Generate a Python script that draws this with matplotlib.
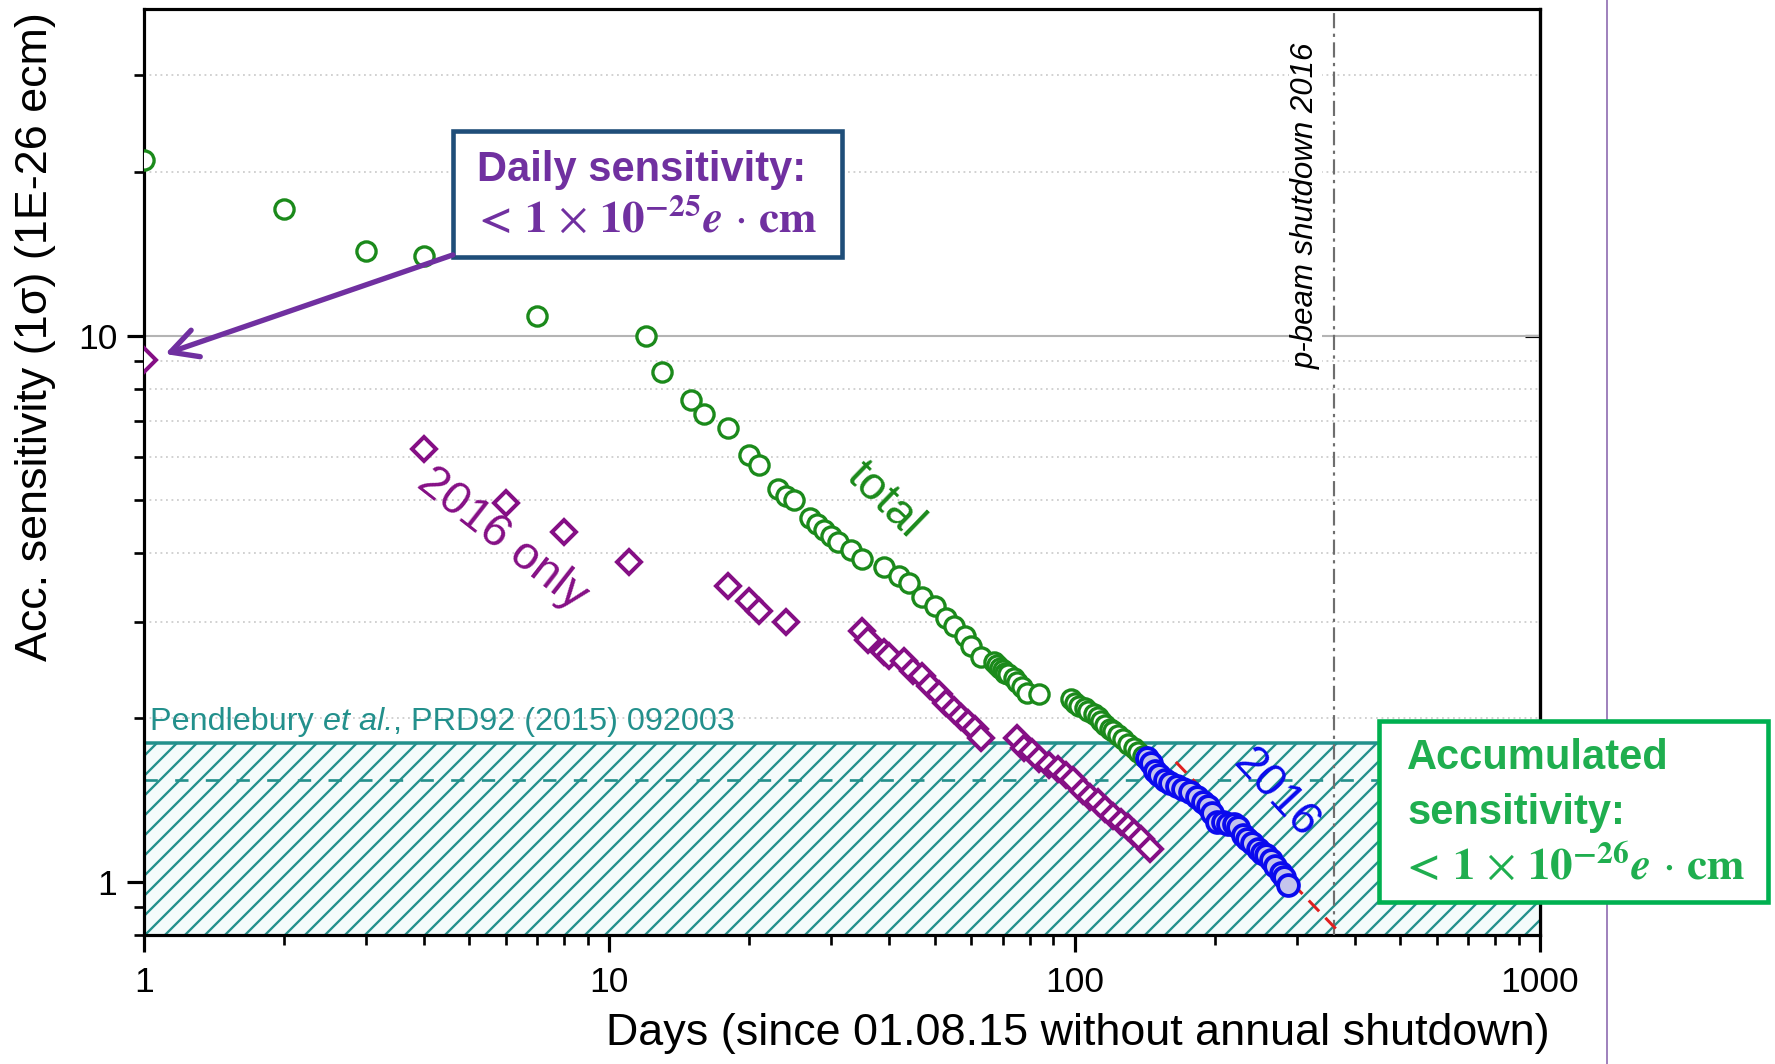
import matplotlib
matplotlib.use('Agg')
import matplotlib.pyplot as plt
import matplotlib.ticker as ticker
from matplotlib.lines import Line2D
from matplotlib.patches import Rectangle

plt.rcParams['font.family'] = ['Liberation Sans', 'DejaVu Sans']
plt.rcParams['mathtext.fontset'] = 'stix'
plt.rcParams['hatch.linewidth'] = 1.4

# accumulated sensitivity, all data (green circles)
total_days = [1, 2, 3, 4, 7, 12, 13, 15, 16, 18, 20, 21, 23, 24, 25, 27, 28, 29, 30, 31,
              33, 35, 39, 42, 44, 47, 50, 53, 55, 58, 60, 63, 67, 68, 69, 70, 71, 72, 74, 75,
              77, 79, 84, 98, 100, 102, 105, 107, 110, 112, 114, 116, 119, 121, 124, 127, 130,
              134, 137, 140]
total_sens = [21.0, 17.1, 14.3, 14.0, 10.9, 10.0, 8.6, 7.65, 7.2, 6.8, 6.05, 5.8, 5.25, 5.1, 5.0,
              4.65, 4.52, 4.42, 4.3, 4.2, 4.05, 3.9, 3.78, 3.63, 3.53, 3.33, 3.2, 3.05, 2.94, 2.82,
              2.71, 2.58, 2.53, 2.5, 2.47, 2.45, 2.42, 2.4, 2.36, 2.33, 2.28, 2.22, 2.21, 2.16,
              2.13, 2.1, 2.08, 2.06, 2.03, 2.01, 1.97, 1.94, 1.91, 1.89, 1.86, 1.83, 1.79, 1.76,
              1.73, 1.7]

# 2016 data only (purple diamonds)
only16_days = [1, 4, 6, 8, 11, 18, 20, 21, 24, 35, 36, 39, 40, 43, 45, 47, 49, 51, 53, 55, 57,
               59, 61, 63, 75, 78, 81, 84, 88, 92, 96, 99, 104, 108, 112, 116, 121, 126, 130,
               134, 139, 145]
only16_sens = [9.05, 6.2, 4.95, 4.37, 3.85, 3.48, 3.27, 3.14, 3.0, 2.88, 2.77, 2.64, 2.59, 2.54,
               2.44, 2.38, 2.29, 2.21, 2.13, 2.07, 2.01, 1.96, 1.91, 1.84, 1.84, 1.76, 1.73, 1.68,
               1.64, 1.61, 1.57, 1.54, 1.47, 1.43, 1.4, 1.36, 1.32, 1.29, 1.26, 1.23, 1.2, 1.15]

# 2016 accumulated (blue)
y16_days = [143, 146, 149, 152, 156, 160, 166, 171, 177, 183, 189, 193, 197, 202, 208, 214,
            220, 224, 230, 235, 241, 248, 253, 258, 264, 270, 277, 282, 287]
y16_sens = [1.69, 1.65, 1.6, 1.57, 1.54, 1.52, 1.5, 1.48, 1.46, 1.43, 1.4, 1.38, 1.34, 1.29,
            1.29, 1.28, 1.28, 1.26, 1.22, 1.2, 1.18, 1.15, 1.13, 1.12, 1.1, 1.07, 1.04, 1.02, 0.99]

# red dashed extrapolation
fit_days = [165, 370]
fit_sens = [1.66, 0.81]

pendlebury_limit = 1.8
pendlebury_dashed = 1.54
shutdown_day = 360

x_ticks = [1, 10, 100, 1000]
x_tick_labels = ['1', '10', '100', '1000']
y_ticks = [1, 10]
y_tick_labels = ['1', '10']

GREEN = '#1b8a1b'
PURPLE = '#850f85'
BLUE = '#0a0aee'
TEAL = '#23908c'
BOXPURPLE = '#7030a0'
BOXGREEN = '#1fae4f'
NAVY = '#1f4e79'

DPI = 120
fig = plt.figure(figsize=(1775 / DPI, 1064 / DPI), dpi=DPI)
ax = fig.add_axes([0.0811, 0.1212, 0.7865, 0.8703])
ax.set_xscale('log')
ax.set_yscale('log')
ax.set_xlim(1, 1000)
ax.set_ylim(0.8, 39.7)

ax.set_xticks(x_ticks)
ax.set_xticklabels(x_tick_labels)
ax.set_yticks(y_ticks)
ax.set_yticklabels(y_tick_labels)
ax.xaxis.set_minor_locator(ticker.LogLocator(base=10, subs=range(2, 10)))
ax.yaxis.set_minor_locator(ticker.LogLocator(base=10, subs=range(2, 10)))
ax.xaxis.set_minor_formatter(ticker.NullFormatter())
ax.yaxis.set_minor_formatter(ticker.NullFormatter())

ax.tick_params(which='major', direction='out', length=10, width=1.9, labelsize=21.25)
ax.tick_params(which='minor', direction='out', length=6.2, width=1.6)
ax.tick_params(axis='x', which='major', pad=8.5)
ax.tick_params(axis='y', which='major', pad=6)
for s in ax.spines.values():
    s.set_linewidth(1.9)

sec = ax.secondary_yaxis('right')
sec.set_yticks(y_ticks)
sec.tick_params(which='major', direction='in', length=9, width=1.9, labelright=False)
sec.tick_params(which='minor', length=0)
sec.spines['right'].set_linewidth(1.9)

ax.yaxis.grid(True, which='major', color='#b4b4b4', lw=1.25, ls='-')
ax.yaxis.grid(True, which='minor', color='#cfcfcf', lw=1.1, ls=(0, (1, 2)))
ax.set_axisbelow(True)

# Pendlebury band
xl = ax.get_xlim()
ax.fill_between(xl, ax.get_ylim()[0], pendlebury_limit, facecolor='#f4fbfb', edgecolor=TEAL,
                hatch='//', lw=0, zorder=1)
ax.axhline(pendlebury_limit, color=TEAL, lw=2.1, zorder=2)
ax.axhline(pendlebury_dashed, color=TEAL, lw=1.6, ls=(0, (5, 6.5)), zorder=2)

t1 = ax.text(0.0043, 1.9, 'Pendlebury ', color=TEAL, fontsize=19.4,
             transform=ax.get_yaxis_transform(), va='baseline', ha='left')
t2 = ax.annotate('et al.', xy=(1, 0), xycoords=t1, va='bottom', ha='left',
                 color=TEAL, fontsize=19.4, style='italic')
t3 = ax.annotate(', PRD92 (2015) 092003', xy=(1, 0), xycoords=t2, va='bottom', ha='left',
                 color=TEAL, fontsize=19.4)

# shutdown line
ax.axvline(shutdown_day, color='#6e6e6e', lw=1.3, ls=(0, (7, 2.5, 1.5, 2.5)), zorder=3)
ax.text(314, 17.3, 'p-beam shutdown 2016', rotation=90, style='italic', fontsize=18.75,
        ha='center', va='center', zorder=2,
        bbox=dict(facecolor='white', edgecolor='none', pad=1))

# data
ax.plot(total_days, total_sens, 'o', ms=11.5, mfc='white', mec=GREEN, mew=2.0, ls='none', zorder=4)
ax.plot(only16_days, only16_sens, 'D', ms=10.5, mfc='white', mec=PURPLE, mew=2.4, ls='none', zorder=4)
ax.plot(fit_days, fit_sens, color='#e02020', lw=1.8, dashes=(5, 3), zorder=4.5)
ax.plot(y16_days, y16_sens, 'o', ms=12.5, mfc='#c4c4ec', mec=BLUE, mew=2.3, ls='none', zorder=5)

ax.text(39, 5.0, 'total', color=GREEN, fontsize=28, rotation=-44, ha='center', va='center',
        rotation_mode='anchor')
ax.text(5.9, 4.25, '2016 only', color=PURPLE, fontsize=28, rotation=-38, ha='center',
        va='center', rotation_mode='anchor')
ax.text(271, 1.45, '2016', color=BLUE, fontsize=28, rotation=-47, ha='center', va='center',
        rotation_mode='anchor', zorder=6)

ax.set_xlabel('Days (since 01.08.15 without annual shutdown)', fontsize=26.9)
ax.xaxis.set_label_coords(0.669, -0.084)
ax.set_ylabel('Acc. sensitivity (1\u03c3) (1E-26 ecm)', fontsize=26.9)
ax.yaxis.set_label_coords(-0.063, 0.646)

# annotation boxes
daily_math = r'$\mathbf{<}\,\mathbf{1}\,\times\,\mathbf{10^{-25}}\mathbfit{e}\,\cdot\,\mathbf{cm}$'
acc_math = r'$\mathbf{<}\,\mathbf{1}\,\times\,\mathbf{10^{-26}}\mathbfit{e}\,\cdot\,\mathbf{cm}$'

ax.add_patch(Rectangle((0.2213, 0.7322), 0.2787, 0.1361, transform=ax.transAxes,
                       facecolor='white', edgecolor=NAVY, lw=2.75, zorder=7, clip_on=False))
ax.text(0.2385, 0.826, 'Daily sensitivity:', transform=ax.transAxes, color=BOXPURPLE,
        fontsize=25, fontweight='bold', ha='left', va='center', zorder=8)
ax.text(0.235, 0.772, daily_math, transform=ax.transAxes, color=BOXPURPLE,
        fontsize=27, ha='left', va='center', zorder=8)
ax.annotate('', xy=(1.11, 9.27), xytext=(0.2213, 0.7345), textcoords='axes fraction',
            arrowprops=dict(arrowstyle='->,head_length=0.8,head_width=0.42', color=BOXPURPLE,
                            lw=3.2, mutation_scale=20, shrinkA=0, shrinkB=0), zorder=7)

fig.add_artist(Line2D([0.9054, 0.9054], [0, 1], color='#8e6bb0', lw=1.0, zorder=1))
fig.add_artist(Rectangle((0.7769, 0.1523), 0.2191, 0.1701, transform=fig.transFigure,
                         facecolor='white', edgecolor='#00b050', lw=2.75, zorder=4))
fig.text(0.7927, 0.2876, 'Accumulated', color=BOXGREEN, fontsize=25, fontweight='bold',
         ha='left', va='center', zorder=5)
fig.text(0.7927, 0.2359, 'sensitivity:', color=BOXGREEN, fontsize=25, fontweight='bold',
         ha='left', va='center', zorder=5)
fig.text(0.7885, 0.1861, acc_math, color=BOXGREEN, fontsize=27, ha='left', va='center', zorder=5)

fig.savefig('out.png', dpi=DPI)
